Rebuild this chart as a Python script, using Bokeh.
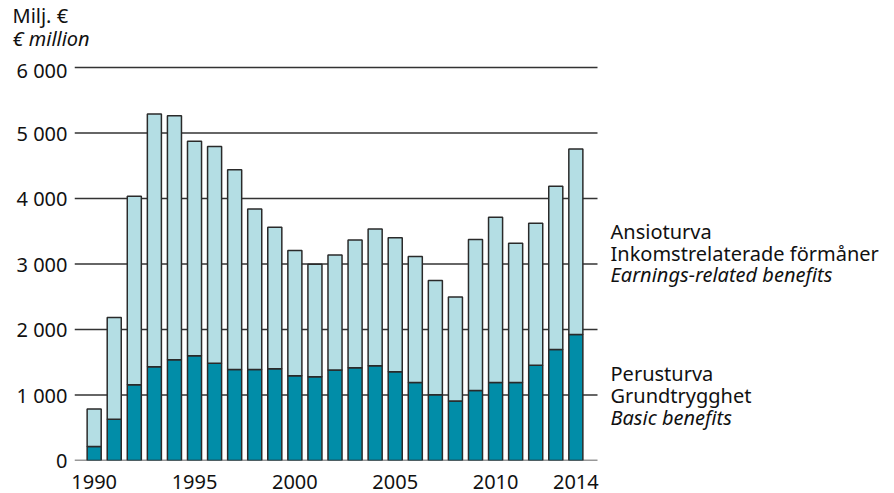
from bokeh.plotting import figure
from bokeh.models import ColumnDataSource, FixedTicker, Range1d, Label
from bokeh.layouts import column
from bokeh.embed import file_html
from bokeh.resources import INLINE

years = list(range(1990, 2015))
basic = [215, 629, 1156, 1432, 1540, 1601, 1483, 1391, 1391, 1402, 1294, 1279, 1381,
         1417, 1448, 1355, 1192, 1003, 910, 1069, 1192, 1192, 1453, 1693, 1923]
earnings = [573, 1555, 2880, 3857, 3723, 3274, 3310, 3049, 2450, 2158, 1913, 1718, 1755,
            1949, 2087, 2047, 1923, 1744, 1586, 2307, 2522, 2123, 2168, 2496, 2834]
x_ticks = [1990, 1995, 2000, 2005, 2010, 2014]
y_ticks = [0, 1000, 2000, 3000, 4000, 5000, 6000]
y_tick_labels = ["0", "1 000", "2 000", "3 000", "4 000", "5 000", "6 000"]
unit_lines = ["Milj. €", "€ million"]
earn_lines = ["Ansioturva", "Inkomstrelaterade förmåner", "Earnings-related benefits"]
basic_lines = ["Perusturva", "Grundtrygghet", "Basic benefits"]

FONT = "Noto Sans"
FS = "20px"
DARK = "#018da8"
LIGHT = "#b4dee4"
EDGE = "#2a2a2a"
TXT = "#111111"
BASE_FIX = -7  # empirical baseline correction for Label placement

total = [b + e for b, e in zip(basic, earnings)]
src = ColumnDataSource(dict(year=years, basic=basic, total=total))

W = 894
HEAD_H = 56

# ---- header strip with the unit label ----
head = figure(width=W, height=HEAD_H, output_backend="svg", toolbar_location=None,
              x_range=Range1d(0, W), y_range=Range1d(HEAD_H, 0),
              x_axis_location=None, y_axis_location=None,
              min_border_left=0, min_border_right=0, min_border_top=0, min_border_bottom=0)
head.outline_line_color = None
head.grid.visible = False
for i, (t, by) in enumerate(zip(unit_lines, [22, 45])):
    head.add_layout(Label(x=12, y=by + BASE_FIX, text=t, text_font=FONT, text_font_size=FS,
                          text_font_style="italic" if i == 1 else "normal",
                          text_color=TXT, text_baseline="alphabetic", text_align="left"))

# ---- main chart: frame x 74..894, page y 64..460 ----
X0 = 1989.02
PXY = 20.07
X1 = X0 + (W - 74) / PXY
GRID_END = X0 + (597 - 74) / PXY
PX = 396 / 6046.0

p = figure(width=W, height=493 - HEAD_H, output_backend="svg", toolbar_location=None,
           x_range=Range1d(X0, X1), y_range=Range1d(0, 6046),
           min_border_left=74, min_border_right=0, min_border_top=64 - HEAD_H,
           min_border_bottom=33)
p.outline_line_color = None
p.background_fill_color = "white"
p.xgrid.visible = False
p.ygrid.visible = False

for fig in (head, p):
    try:
        fig.frame_align = False
    except AttributeError:
        pass

p.segment(x0=[X0] * len(y_ticks), x1=[GRID_END] * len(y_ticks), y0=y_ticks, y1=y_ticks,
          line_color="#333333", line_width=1.4)

p.vbar(x="year", bottom=0, top="basic", width=0.7, source=src,
       fill_color=DARK, line_color=EDGE, line_width=1.5)
p.vbar(x="year", bottom="basic", top="total", width=0.7, source=src,
       fill_color=LIGHT, line_color=EDGE, line_width=1.5)

xa = p.xaxis[0]
xa.ticker = FixedTicker(ticks=x_ticks)
xa.major_tick_line_color = None
xa.minor_tick_line_color = None
xa.major_tick_out = 0
xa.major_tick_in = 0
xa.axis_line_color = None
xa.major_label_text_font = FONT
xa.major_label_text_font_size = FS
xa.major_label_text_color = TXT
xa.major_label_standoff = 14

ya = p.yaxis[0]
ya.ticker = FixedTicker(ticks=y_ticks)
ya.major_label_overrides = {t: s for t, s in zip(y_ticks, y_tick_labels)}
ya.axis_line_color = None
ya.major_tick_line_color = None
ya.minor_tick_line_color = None
ya.major_tick_out = 0
ya.major_tick_in = 0
ya.major_label_text_font = FONT
ya.major_label_text_font_size = FS
ya.major_label_text_color = TXT
ya.major_label_standoff = 7


def ydata(page_y):
    return (460 - page_y) / PX


LEG_X = X0 + (610 - 74) / PXY


def add_lines(lines, baselines):
    for i, (t, by) in enumerate(zip(lines, baselines)):
        style = "italic" if i == len(lines) - 1 else "normal"
        p.add_layout(Label(x=LEG_X, y=ydata(by + BASE_FIX), text=t, text_font=FONT,
                           text_font_size=FS, text_font_style=style, text_color=TXT,
                           text_baseline="alphabetic", text_align="left"))


add_lines(earn_lines, [238, 260, 281])
add_lines(basic_lines, [380, 402, 424])

layout = column(head, p, spacing=0)
open("out.html", "w").write(file_html(layout, INLINE))
